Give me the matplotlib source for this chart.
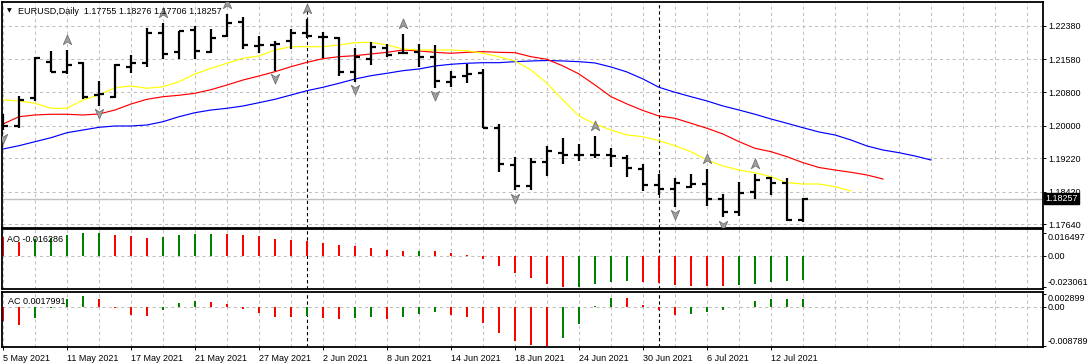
import numpy as np
import matplotlib.pyplot as plt
from matplotlib.path import Path
from matplotlib.transforms import offset_copy, blended_transform_factory

plt.rcParams['font.family'] = ['Liberation Sans', 'DejaVu Sans']

# EURUSD daily bars, 5 May 2021 .. 14 Jul 2021
opens = [1.20157, 1.19990, 1.20666, 1.21512, 1.21288, 1.21489, 1.20731, 1.20690, 1.21407, 1.21489,
         1.22220, 1.21766, 1.22284, 1.21766, 1.22141, 1.22483, 1.21909, 1.21926, 1.22022, 1.22220,
         1.22124, 1.22086, 1.21288, 1.21584, 1.21847, 1.21728, 1.21766, 1.21632, 1.21034, 1.21185,
         1.21250, 1.19935, 1.19051, 1.18563, 1.19130, 1.19352, 1.19290, 1.19290, 1.19290, 1.19218,
         1.18955, 1.18573, 1.18484, 1.18539, 1.18597, 1.18238, 1.17927, 1.18405, 1.18740, 1.18620,
         1.17755]
highs = [1.20277, 1.20707, 1.21639, 1.21783, 1.21806, 1.21527, 1.21073, 1.21465, 1.21687, 1.22325,
         1.22445, 1.22268, 1.22380, 1.22301, 1.22667, 1.22602, 1.22141, 1.22029, 1.22301, 1.22540,
         1.22244, 1.22124, 1.21847, 1.22005, 1.21950, 1.22189, 1.21950, 1.21926, 1.21305, 1.21472,
         1.21345, 1.20038, 1.19242, 1.19218, 1.19519, 1.19696, 1.19560, 1.19751, 1.19457, 1.19297,
         1.19082, 1.18843, 1.18740, 1.18843, 1.18962, 1.18365, 1.18659, 1.18843, 1.18778, 1.18740,
         1.18276]
lows = [1.19894, 1.19935, 1.20588, 1.21281, 1.21233, 1.20635, 1.20468, 1.20666, 1.21250, 1.21407,
        1.21584, 1.21591, 1.21591, 1.21742, 1.22124, 1.21823, 1.21742, 1.21305, 1.21823, 1.22100,
        1.21608, 1.21185, 1.21049, 1.21448, 1.21646, 1.21704, 1.21407, 1.20905, 1.20929, 1.21011,
        1.19935, 1.18898, 1.18460, 1.18465, 1.18802, 1.19082, 1.19161, 1.19218, 1.19017, 1.18764,
        1.18444, 1.18341, 1.18061, 1.18501, 1.18070, 1.17808, 1.17839, 1.18238, 1.18341, 1.17710,
        1.17706]
closes = [1.19990, 1.20611, 1.21622, 1.21288, 1.21448, 1.20676, 1.20755, 1.21448, 1.21489, 1.22206,
          1.21711, 1.22261, 1.21790, 1.22100, 1.22459, 1.21926, 1.21915, 1.21943, 1.22220, 1.22141,
          1.22118, 1.21288, 1.21632, 1.21885, 1.21687, 1.21742, 1.21646, 1.21073, 1.21168, 1.21233,
          1.19949, 1.19075, 1.18563, 1.19130, 1.19393, 1.19297, 1.19296, 1.19285, 1.19282, 1.18979,
          1.18573, 1.18492, 1.18635, 1.18597, 1.18252, 1.17935, 1.18381, 1.18699, 1.18620, 1.17755,
          1.18257]

# alligator lines (they run past the last bar)
lips = [1.20611, 1.20588, 1.20533, 1.20413, 1.20413, 1.20611, 1.20731, 1.20905, 1.20946, 1.20891,
        1.20929, 1.21049, 1.21233, 1.21369, 1.21489, 1.21608, 1.21663, 1.21806, 1.21885, 1.21885,
        1.21885, 1.21926, 1.21981, 1.21990, 1.21926, 1.21830, 1.21806, 1.21806, 1.21806, 1.21790,
        1.21728, 1.21646, 1.21544, 1.21328, 1.21011, 1.20611, 1.20229, 1.20038, 1.19894, 1.19775,
        1.19734, 1.19639, 1.19519, 1.19376, 1.19177, 1.19034, 1.18938, 1.18874, 1.18778, 1.18635,
        1.18604, 1.18604, 1.18539, 1.18437]
teeth = [1.20038, 1.20212, 1.20253, 1.20270, 1.20270, 1.20253, 1.20277, 1.20372, 1.20516, 1.20628,
         1.20690, 1.20724, 1.20772, 1.20858, 1.20970, 1.21089, 1.21185, 1.21288, 1.21407, 1.21512,
         1.21599, 1.21646, 1.21670, 1.21711, 1.21751, 1.21806, 1.21783, 1.21751, 1.21728, 1.21751,
         1.21766, 1.21751, 1.21742, 1.21646, 1.21584, 1.21424, 1.21233, 1.20970, 1.20690, 1.20516,
         1.20360, 1.20229, 1.20174, 1.20055, 1.19935, 1.19799, 1.19615, 1.19457, 1.19376, 1.19256,
         1.19113, 1.18998, 1.18938, 1.18883, 1.18819, 1.18723]
jaw = [1.19440, 1.19519, 1.19615, 1.19710, 1.19830, 1.19894, 1.19959, 1.19990, 1.19990, 1.20014,
       1.20093, 1.20212, 1.20308, 1.20372, 1.20413, 1.20468, 1.20547, 1.20628, 1.20731, 1.20834,
       1.20915, 1.21011, 1.21113, 1.21192, 1.21250, 1.21312, 1.21352, 1.21424, 1.21465, 1.21489,
       1.21503, 1.21503, 1.21527, 1.21544, 1.21555, 1.21544, 1.21527, 1.21496, 1.21400, 1.21281,
       1.21113, 1.20915, 1.20795, 1.20690, 1.20588, 1.20468, 1.20372, 1.20270, 1.20157, 1.20055,
       1.19949, 1.19847, 1.19775, 1.19655, 1.19512, 1.19416, 1.19352, 1.19273, 1.19177]

up_fractals = [4, 10, 14, 19, 25, 37, 44, 47]
down_fractals = [0, 6, 17, 22, 27, 32, 42, 45]

ao = [0.01345, 0.01015, 0.01218, 0.01269, 0.01472, 0.01620, 0.016497, 0.01472, 0.01396, 0.01320,
      0.01345, 0.01472, 0.01548, 0.01561, 0.01548, 0.01472, 0.01396, 0.01244, 0.01167, 0.01041,
      0.00939, 0.00787, 0.00711, 0.00558, 0.00406, 0.00330, 0.00355, 0.00325, 0.00178, 0.00051,
      -0.00279, -0.00736, -0.01244, -0.01650, -0.02056, -0.023061, -0.02290, -0.02056, -0.01930, -0.01830,
      -0.01930, -0.01980, -0.02130, -0.02210, -0.02220, -0.02230, -0.02130, -0.02060, -0.01910, -0.01830,
      -0.01750]
ac = [-0.00314, -0.00408, -0.00251, -0.00039, 0.00173, 0.00243, 0.00173, -0.00031, -0.00181, -0.00204,
      -0.00086, 0.00086, 0.00126, 0.00102, 0.00055, -0.00063, -0.00133, -0.00228, -0.00236, -0.00220,
      -0.00259, -0.00267, -0.00251, -0.00236, -0.00275, -0.00228, -0.00165, -0.00110, -0.00181, -0.00236,
      -0.00369, -0.00604, -0.00785, -0.00860, -0.008789, -0.00714, -0.00393, 0.00008, 0.00196, 0.00188,
      0.00047, -0.00086, -0.00196, -0.00173, -0.00110, -0.00086, -0.00016, 0.00126, 0.00173, 0.00176,
      0.00180]

date_labels = ['5 May 2021', '11 May 2021', '17 May 2021', '21 May 2021', '27 May 2021', '2 Jun 2021',
               '8 Jun 2021', '14 Jun 2021', '18 Jun 2021', '24 Jun 2021', '30 Jun 2021', '6 Jul 2021',
               '12 Jul 2021']
month_starts = [19, 41]

price_ticks = [1.22380, 1.21580, 1.20800, 1.20000, 1.19220, 1.18420, 1.17640]
ao_ticks = [0.016497, 0.0, -0.023061]
ac_ticks = [0.002899, 0.0, -0.008789]
bid = 1.18257

GREEN = '#008000'
RED = '#ff0000'
GRID = '#c0c0c0'
FS = 6.5

W, H = 1089, 364
fig = plt.figure(figsize=(W / 100, H / 100), dpi=100)
L = 2 / W
AW = (1043 - 2) / W
ax = fig.add_axes([L, 1 - 228.3 / H, AW, 226 / H])
ax_ao = fig.add_axes([L, 1 - 289.3 / H, AW, 60.1 / H])
ax_ac = fig.add_axes([L, 1 - 347.3 / H, AW, 55.6 / H])

x = np.arange(len(opens))
for a in (ax, ax_ao, ax_ac):
    a.set_xlim(-0.0625, 65)
    for s in a.spines.values():
        s.set_linewidth(1.3)
    for gx in range(0, 65, 2):
        a.axvline(gx, color=GRID, lw=0.75, ls=(0, (3, 3)), zorder=0)
    for m in month_starts:
        a.axvline(m, color='k', lw=0.8, ls=(0, (3, 2.5)), zorder=1)
    a.yaxis.tick_right()
    a.tick_params(axis='y', length=2.5, width=0.7, pad=1, labelsize=FS)
    a.tick_params(axis='x', length=0, labelbottom=False)

# price panel
ax.set_ylim(1.17545, 1.22946)
for p in price_ticks:
    ax.axhline(p, color=GRID, lw=0.75, ls=(0, (3, 3)), zorder=0)
ax.axhline(bid, color=GRID, lw=1.0, zorder=0)
ax.set_yticks(price_ticks, ['%.5f' % p for p in price_ticks])

ax.plot(np.arange(len(jaw)), jaw, color='#0000ff', lw=0.85, zorder=2)
ax.plot(np.arange(len(teeth)), teeth, color='#ff0000', lw=0.85, zorder=2)
ax.plot(np.arange(len(lips)), lips, color='#ffff00', lw=0.85, zorder=2)

ax.vlines(x, lows, highs, color='k', lw=1.6, zorder=3)
ax.hlines(opens, x - 0.34, x, color='k', lw=1.6, zorder=3)
ax.hlines(closes, x, x + 0.34, color='k', lw=1.6, zorder=3)

up_arrow = Path([(0, 1), (0.75, -0.75), (0, -0.25), (-0.75, -0.75), (0, 1)],
                [Path.MOVETO, Path.LINETO, Path.LINETO, Path.LINETO, Path.CLOSEPOLY])
down_arrow = Path([(0, -1), (0.75, 0.75), (0, 0.25), (-0.75, 0.75), (0, -1)],
                  [Path.MOVETO, Path.LINETO, Path.LINETO, Path.LINETO, Path.CLOSEPOLY])
tr_up = offset_copy(ax.transData, fig=fig, y=10, units='dots')
tr_dn = offset_copy(ax.transData, fig=fig, y=-7.5, units='dots')
ax.plot(up_fractals, [highs[i] for i in up_fractals], ls='none', marker=up_arrow, ms=8,
        mfc='#a0a0a0', mec='#707070', mew=0.6, transform=tr_up, zorder=4)
ax.plot(down_fractals, [lows[i] for i in down_fractals], ls='none', marker=down_arrow, ms=8,
        mfc='#a0a0a0', mec='#707070', mew=0.6, transform=tr_dn, zorder=4)

bt = blended_transform_factory(ax.transAxes, ax.transData)
ax.text(1.0025, bid, '%.5f' % bid, transform=bt, color='white', fontsize=FS, ha='left', va='center',
        bbox=dict(boxstyle='square,pad=0.15', fc='black', ec='black'), zorder=10, clip_on=False)

title = 'EURUSD,Daily  %.5f %.5f %.5f %.5f' % (opens[-1], highs[-1], lows[-1], closes[-1])
fig.text(7 / W, 1 - 10.5 / H, '\u25bc', fontsize=4.5, va='center', family='DejaVu Sans')
fig.text(18 / W, 1 - 11 / H, title, fontsize=FS, va='center')

# AO panel
ao_col = [RED] + [GREEN if b > a else RED for a, b in zip(ao[:-1], ao[1:])]
ax_ao.set_ylim(-0.0246, 0.01927)
ax_ao.axhline(0, color=GRID, lw=0.75, ls=(0, (3, 3)), zorder=0)
ax_ao.bar(x, ao, width=0.14, color=ao_col, zorder=2)
ax_ao.set_yticks(ao_ticks, ['0.016497', '0.00', '-0.023061'])
lab = ax_ao.get_yticklabels()
lab[0].set_va('top')
lab[2].set_va('bottom')
fig.text(7 / W, 1 - 240 / H, 'AO %.6f' % -0.016286, fontsize=FS, va='center')

# AC panel
ac_col = [RED] + [GREEN if b > a else RED for a, b in zip(ac[:-1], ac[1:])]
ax_ac.set_ylim(-0.00918, 0.00339)
ax_ac.axhline(0, color=GRID, lw=0.75, ls=(0, (3, 3)), zorder=0)
ax_ac.bar(x, ac, width=0.14, color=ac_col, zorder=2)
ax_ac.set_yticks(ac_ticks, ['0.002899', '0.00', '-0.008789'])
lab = ax_ac.get_yticklabels()
lab[0].set_va('top')
lab[2].set_va('bottom')
fig.text(8 / W, 1 - 301.5 / H, 'AC 0.0017991', fontsize=FS, va='center')

ax_ac.set_xticks(np.arange(0, 4 * len(date_labels), 4), date_labels)
ax_ac.tick_params(axis='x', length=2.5, width=0.7, pad=2, labelbottom=True, labelsize=FS)
for t in ax_ac.get_xticklabels():
    t.set_ha('left')

fig.savefig('out.png', dpi=100)
